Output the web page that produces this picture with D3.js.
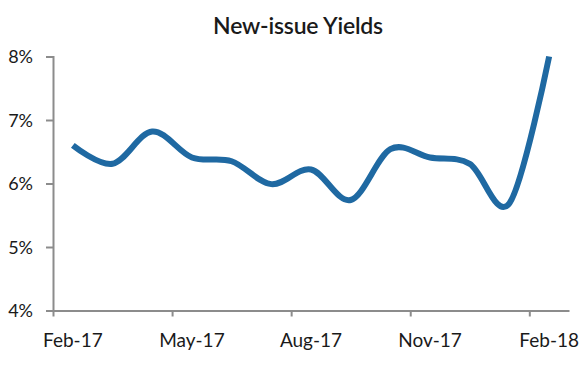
<!DOCTYPE html>
<html lang="en">
<head>
    <meta charset="UTF-8">
    <title>New-issue Yields</title>
    <script src="https://cdn.jsdelivr.net/npm/d3@7/dist/d3.min.js"></script>
    <style>
        body { margin: 0; background: #fff; }
        text { font-family: Lato, "Open Sans", sans-serif; fill: #1a1a1a; }
    </style>
</head>
<body>
<script>
    // canvas size
    const width = 587;
    const height = 368;

    // data
    const months = ['Feb-17', 'Mar-17', 'Apr-17', 'May-17', 'Jun-17', 'Jul-17', 'Aug-17',
        'Sep-17', 'Oct-17', 'Nov-17', 'Dec-17', 'Jan-18', 'Feb-18'];
    const yields = [6.60, 6.31, 6.82, 6.41, 6.35, 5.99, 6.22, 5.74, 6.54, 6.41, 6.31, 5.69, 8.0];
    const yTicks = [4, 5, 6, 7, 8];
    const labelEvery = 3;

    const plotLeft = 53, plotRight = 569, plotTop = 56.5, plotBottom = 310.5;

    let svg = d3.select('body')
        .append('svg')
        .attr('width', width)
        .attr('height', height);

    // scales
    let x = d3.scaleBand().domain(months).range([plotLeft, plotRight]).padding(0);
    let y = d3.scaleLinear().domain([4, 8]).range([plotBottom, plotTop]);
    let edge = d3.scaleLinear().domain([0, months.length]).range([plotLeft, plotRight]);

    // title
    svg.append('text')
        .attr('x', 298)
        .attr('y', 34)
        .attr('text-anchor', 'middle')
        .style('font-size', '23px')
        .style('font-weight', 600)
        .style('letter-spacing', '-0.2px')
        .text('New-issue Yields');

    // y axis
    let yAxis = svg.append('g')
        .attr('transform', `translate(${plotLeft},0)`)
        .call(d3.axisLeft(y).tickValues(yTicks).tickSize(7).tickPadding(13)
            .tickFormat(d => d + '%'));
    yAxis.selectAll('text').style('font-size', '18px').attr('dy', '0.36em');

    // x axis: ticks on band edges, labels on band centres
    let xAxis = svg.append('g')
        .attr('transform', `translate(0,${plotBottom})`)
        .call(d3.axisBottom(edge)
            .tickValues(d3.range(0, months.length, labelEvery))
            .tickSize(6).tickSizeOuter(0).tickFormat(''));

    svg.selectAll('.domain, .tick line')
        .attr('stroke', '#8c8c8c')
        .attr('stroke-width', 2);

    svg.append('g')
        .selectAll('text')
        .data(months.filter((d, i) => i % labelEvery === 0))
        .enter()
        .append('text')
        .attr('x', d => x(d) + x.bandwidth() / 2)
        .attr('y', 347)
        .attr('text-anchor', 'middle')
        .style('font-size', '19px')
        .text(d => d);

    // smoothed line
    let line = d3.line()
        .x((d, i) => x(months[i]) + x.bandwidth() / 2)
        .y(d => y(d))
        .curve(d3.curveCardinal.tension(0));

    svg.append('path')
        .datum(yields)
        .attr('fill', 'none')
        .attr('stroke', '#1f69a2')
        .attr('stroke-width', 6)
        .attr('stroke-linecap', 'butt')
        .attr('stroke-linejoin', 'round')
        .attr('d', line);
</script>
</body>
</html>
